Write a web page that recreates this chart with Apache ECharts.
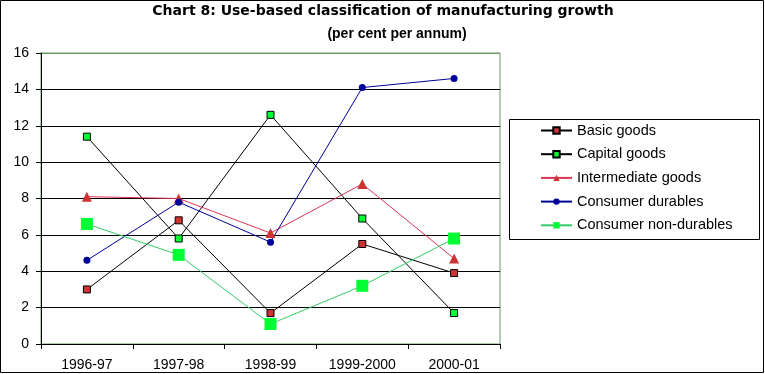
<!DOCTYPE html>
<html>
<head>
<meta charset="utf-8">
<script src="https://cdn.jsdelivr.net/npm/echarts@6/dist/echarts.min.js"></script>
<style>
html,body{margin:0;padding:0;background:#fff;}
#c{width:765px;height:374px;}
</style>
</head>
<body>
<div id="c"></div>
<script>
var categories = ['1996-97', '1997-98', '1998-99', '1999-2000', '2000-01'];
var basicGoods = [3.0, 6.8, 1.7, 5.5, 3.9];
var capitalGoods = [11.4, 5.8, 12.6, 6.9, 1.7];
var intermediateGoods = [8.1, 8.0, 6.1, 8.8, 4.7];
var consumerDurables = [4.6, 7.8, 5.6, 14.1, 14.6];
var consumerNonDurables = [6.6, 4.9, 1.1, 3.2, 5.8];
var yTicks = [0, 2, 4, 6, 8, 10, 12, 14, 16];

var FONT = "'Liberation Sans', Arial, sans-serif";
var chart = echarts.init(document.getElementById('c'), null, {renderer: 'canvas'});

var gridColors = yTicks.map(function (v, i) { return i === yTicks.length - 1 ? '#669966' : '#000000'; });

chart.setOption({
  animation: false,
  backgroundColor: '#ffffff',
  title: [
    {
      text: 'Chart 8: Use-based classification of manufacturing growth',
      left: 383, top: 4, textAlign: 'center', padding: 0,
      textStyle: {fontFamily: "'DejaVu Sans', sans-serif", fontSize: 14, fontWeight: 'bold', color: '#000'}
    },
    {
      text: '(per cent per annum)',
      left: 397, top: 27, textAlign: 'center', padding: 0,
      textStyle: {fontFamily: FONT, fontSize: 14, fontWeight: 'bold', color: '#000'}
    }
  ],
  grid: {
    left: 41, right: 265, top: 53, bottom: 30,
    show: true, borderColor: '#669966', borderWidth: 1, backgroundColor: 'transparent'
  },
  legend: {
    orient: 'vertical',
    left: 540, top: 123,
    itemWidth: 31, itemHeight: 8, itemGap: 8.7, itemTextGap: 5,
    padding: 0,
    textStyle: {fontFamily: FONT, fontSize: 14.5, color: '#000'},
    data: ['Basic goods', 'Capital goods', 'Intermediate goods', 'Consumer durables', 'Consumer non-durables']
  },
  xAxis: {
    type: 'category',
    data: categories,
    boundaryGap: true,
    axisLine: {lineStyle: {color: '#000', width: 1}},
    axisTick: {show: true, length: 5, interval: 0, lineStyle: {color: '#000'}},
    axisLabel: {fontFamily: FONT, fontSize: 14, color: '#000', margin: 14, interval: 0},
    splitLine: {show: false}
  },
  yAxis: {
    type: 'value',
    min: 0, max: 16, interval: 2,
    axisLine: {show: true, lineStyle: {color: '#000', width: 1}},
    axisTick: {show: true, length: 5, lineStyle: {color: '#000'}},
    axisLabel: {fontFamily: FONT, fontSize: 14, color: '#000', margin: 12},
    splitLine: {show: true, lineStyle: {color: gridColors, width: 1}}
  },
  graphic: [
    {type: 'rect', shape: {x: 0.5, y: 0.5, width: 763, height: 372}, style: {fill: 'none', stroke: '#000', lineWidth: 1}, silent: true, z: 100},
    {type: 'rect', shape: {x: 509.5, y: 119.5, width: 250, height: 120}, style: {fill: 'none', stroke: '#000', lineWidth: 1}, silent: true, z: 100}
  ],
  series: [
    {
      name: 'Basic goods', type: 'line', data: basicGoods,
      symbol: 'rect', symbolSize: 7,
      lineStyle: {color: '#000', width: 1},
      itemStyle: {color: '#cc3333', borderColor: '#000', borderWidth: 1}
    },
    {
      name: 'Capital goods', type: 'line', data: capitalGoods,
      symbol: 'rect', symbolSize: 7,
      lineStyle: {color: '#000', width: 1},
      itemStyle: {color: '#00ff33', borderColor: '#000', borderWidth: 1}
    },
    {
      name: 'Intermediate goods', type: 'line', data: intermediateGoods,
      symbol: 'triangle', symbolSize: 10,
      lineStyle: {color: '#dd3355', width: 1},
      itemStyle: {color: '#cc3333', borderWidth: 0}
    },
    {
      name: 'Consumer durables', type: 'line', data: consumerDurables,
      symbol: 'circle', symbolSize: 7,
      lineStyle: {color: '#000099', width: 1},
      itemStyle: {color: '#000099', borderWidth: 0}
    },
    {
      name: 'Consumer non-durables', type: 'line', data: consumerNonDurables,
      symbol: 'rect', symbolSize: 12,
      lineStyle: {color: '#33cc66', width: 1},
      itemStyle: {color: '#00ff33', borderWidth: 0}
    }
  ]
});
</script>
</body>
</html>
